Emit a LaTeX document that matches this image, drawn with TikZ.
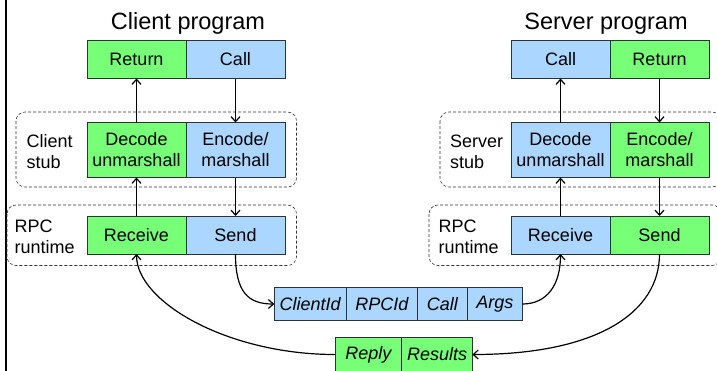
\documentclass[tikz,border=0pt]{standalone}
\usepackage{fontspec}
\setmainfont{Liberation Sans}
\usetikzlibrary{arrows.meta}
\definecolor{gbox}{RGB}{119,255,119}
\definecolor{bbox}{RGB}{170,214,255}
\definecolor{edgec}{RGB}{45,50,55}
\begin{document}
\begin{tikzpicture}[x=1pt,y=-1pt,
  box/.style={draw=edgec, line width=0.9pt, inner sep=0pt, outer sep=0pt,
    minimum width=99pt, minimum height=38pt, align=center,
    font=\fontsize{18}{21}\selectfont},
  gbx/.style={box, fill=gbox},
  bbx/.style={box, fill=bbox},
  stubrow/.style={minimum height=55pt},
  msg/.style={draw=edgec, line width=0.9pt, inner sep=0pt, outer sep=0pt,
    minimum height=33.5pt, font=\fontsize{18}{21}\selectfont\itshape},
  gmsg/.style={msg, fill=gbox},
  bmsg/.style={msg, fill=bbox},
  layer/.style={draw=black!80, line width=0.6pt, dash pattern=on 3pt off 2pt,
    rounded corners=9pt},
  lbl/.style={anchor=west, align=left, inner sep=0pt,
    font=\fontsize{18}{21}\selectfont},
  title/.style={anchor=base, inner sep=0pt, font=\fontsize{23.5}{26}\selectfont},
  arr/.style={line width=1.2pt, -{Straight Barb[length=5pt,width=9pt,line width=1.2pt]}},
]
\useasboundingbox (0,0) rectangle (717,370);
\clip (0,0) rectangle (717,370);

% left vertical rule
\draw[line width=1.8pt] (5.8,-2) -- (5.8,372);

% dashed layer boxes
\draw[layer] (16,112) rectangle (296.5,187);
\draw[layer] (7,205) rectangle (296.5,265.5);
\draw[layer] (440,112) rectangle (721,187);
\draw[layer] (429,205) rectangle (721,265.5);

% titles
\node[title] (ctitle) at (188,29.3) {Client program};
\node[title] (stitle) at (606,29.3) {Server program};

% layer labels
\node[lbl] (cstubl) at (26.5,152) {Client\\stub};
\node[lbl] (crtl) at (14.5,237) {RPC\\runtime};
\node[lbl] (sstubl) at (450,152) {Server\\stub};
\node[lbl] (srtl) at (438.5,237) {RPC\\runtime};

% client boxes
\node[gbx] (cret) at (136.5,59.5) {Return};
\node[bbx] (ccall) at (235.5,59.5) {Call};
\node[gbx, stubrow] (cdec) at (136.5,150) {Decode\\unmarshall};
\node[bbx, stubrow] (cenc) at (235.5,150) {Encode/\\marshall};
\node[gbx] (crecv) at (136.5,235) {Receive};
\node[bbx] (csend) at (235.5,235) {Send};

% server boxes
\node[bbx] (scall) at (560.5,59.5) {Call};
\node[gbx] (sret) at (659.5,59.5) {Return};
\node[bbx, stubrow] (sdec) at (560.5,150) {Decode\\unmarshall};
\node[gbx, stubrow] (senc) at (659.5,150) {Encode/\\marshall};
\node[bbx] (srecv) at (560.5,235) {Receive};
\node[gbx] (ssend) at (659.5,235) {Send};

% request message
\node[bmsg, minimum width=72pt] (cid) at (310.2,304) {ClientId};
\node[bmsg, minimum width=71.3pt] (rpcid) at (381.8,304) {RPCId};
\node[bmsg, minimum width=50pt] (mcall) at (442.4,304) {Call};
\node[bmsg, minimum width=55pt] (args) at (494.9,304) {Args};

% reply message
\node[gmsg, minimum width=66.7pt] (reply) at (368.4,354.5) {Reply};
\node[gmsg, minimum width=70.6pt] (results) at (437.05,354.5) {Results};

% vertical arrows, client
\draw[arr] (cdec.north) -- (cret.south);
\draw[arr] (ccall.south) -- (cenc.north);
\draw[arr] (crecv.north) -- (cdec.south);
\draw[arr] (cenc.south) -- (csend.north);

% vertical arrows, server
\draw[arr] (sdec.north) -- (scall.south);
\draw[arr] (sret.south) -- (senc.north);
\draw[arr] (srecv.north) -- (sdec.south);
\draw[arr] (senc.south) -- (ssend.north);

% curved message arrows
\draw[arr] (csend.south) .. controls (235.5,292) and (248,304) .. (cid.west);
\draw[arr] (args.east) .. controls (547,304) and (560.5,285) .. (srecv.south);
\draw[arr] (ssend.south) .. controls (659.5,312) and (598,354.5) .. (results.east);
\draw[arr] (reply.west) .. controls (228,354.5) and (136.5,302) .. (crecv.south);
\end{tikzpicture}
\end{document}
